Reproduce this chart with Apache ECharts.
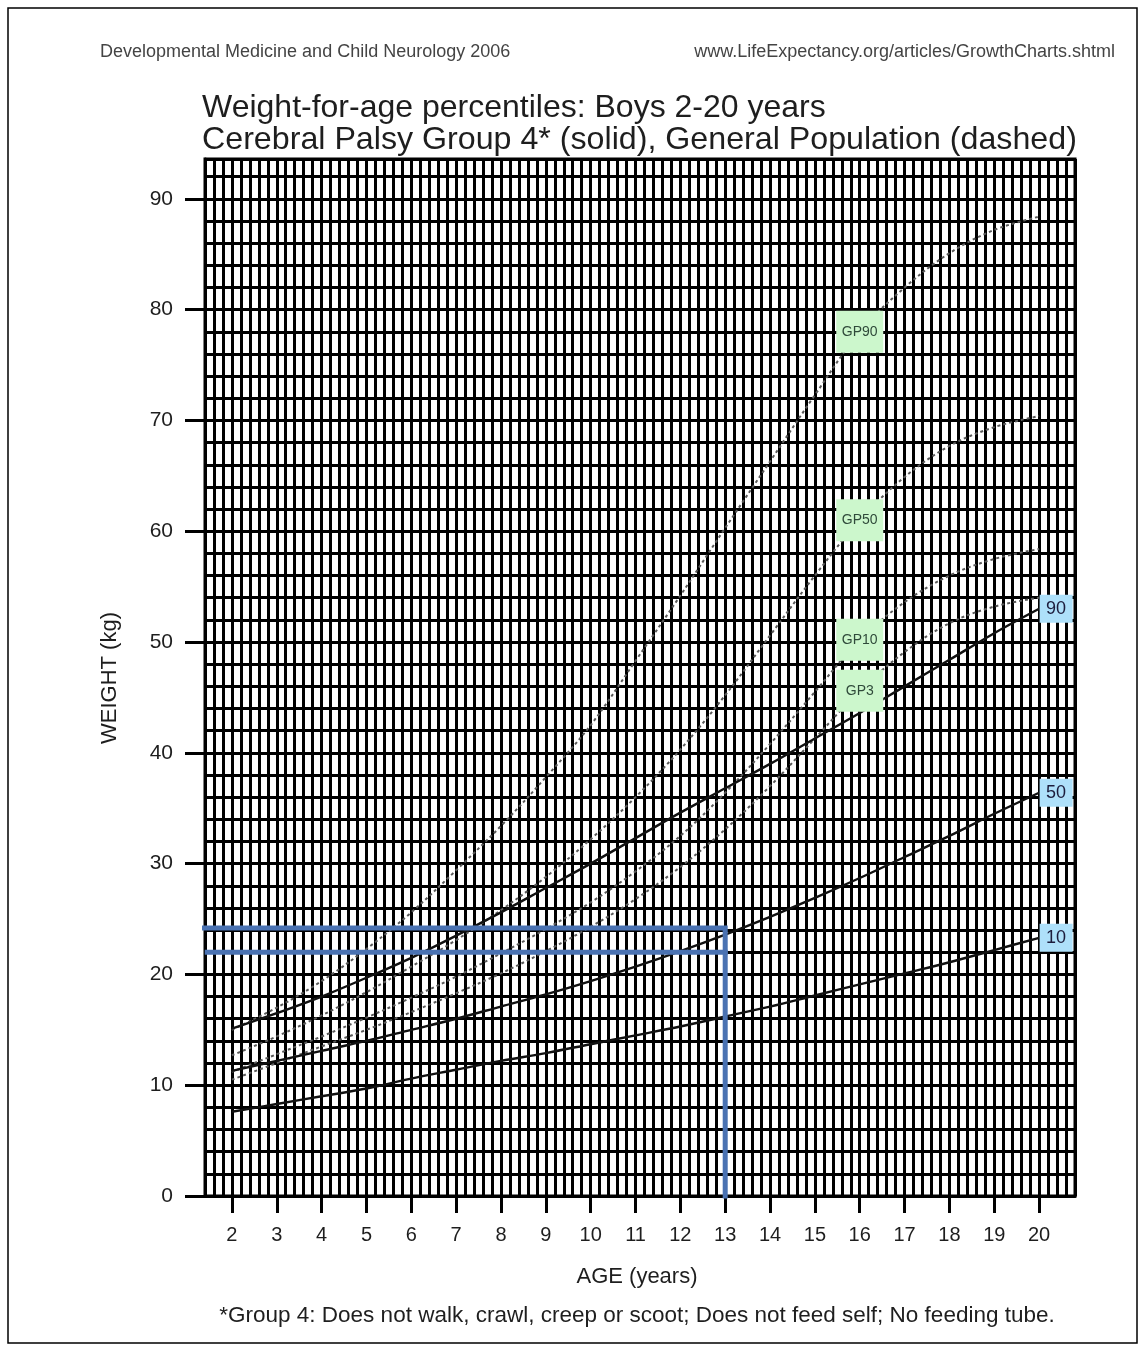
<!DOCTYPE html>
<html>
<head>
<meta charset="utf-8">
<script src="https://cdn.jsdelivr.net/npm/echarts@6/dist/echarts.min.js"></script>
<style>
  html, body { margin: 0; padding: 0; background: #fff; }
  #chart { width: 1145px; height: 1351px; }
</style>
</head>
<body>
<div id="chart"></div>
<script>
// Ages (years) at which every percentile curve is sampled
const ages = [2, 3, 4, 5, 6, 7, 8, 9, 10, 11, 12, 13, 14, 15, 16, 17, 18, 19, 20];

// General population percentiles (dashed), kg
const gp90 = [15.0, 17.0, 19.4, 22.3, 25.6, 29.4, 33.4, 37.8, 42.5, 48.3, 54.2, 60.3, 66.3, 72.3, 78.0, 82.0, 85.1, 87.2, 88.4];
const gp50 = [12.7, 14.4, 16.3, 18.4, 20.7, 23.1, 25.8, 28.8, 32.2, 36.0, 40.3, 45.2, 50.6, 56.0, 61.0, 64.9, 67.7, 69.4, 70.4];
const gp10 = [11.2, 12.8, 14.4, 16.1, 17.9, 19.8, 21.9, 24.1, 26.5, 29.3, 32.5, 36.4, 40.8, 45.5, 50.2, 53.6, 56.0, 57.5, 58.4];
const gp3  = [10.5, 12.0, 13.5, 15.0, 16.6, 18.3, 20.1, 22.1, 24.3, 26.8, 29.7, 33.1, 37.0, 41.3, 45.6, 49.1, 51.7, 53.2, 54.0];

// Cerebral palsy group 4 percentiles (solid), kg
const cp90 = [15.1, 16.5, 18.0, 19.7, 21.5, 23.5, 25.6, 27.8, 30.0, 32.3, 34.6, 36.8, 39.0, 41.3, 43.6, 46.0, 48.4, 50.8, 53.0];
const cp50 = [11.3, 12.2, 13.1, 14.0, 15.0, 16.0, 17.1, 18.2, 19.4, 20.7, 22.1, 23.6, 25.2, 26.9, 28.7, 30.6, 32.5, 34.5, 36.4];
const cp10 = [7.6, 8.3, 9.0, 9.7, 10.6, 11.4, 12.2, 12.9, 13.7, 14.5, 15.3, 16.2, 17.1, 18.1, 19.1, 20.1, 21.1, 22.2, 23.3];

// Axis tick labels
const xTicks = [2, 3, 4, 5, 6, 7, 8, 9, 10, 11, 12, 13, 14, 15, 16, 17, 18, 19, 20];
const yTicks = [0, 10, 20, 30, 40, 50, 60, 70, 80, 90];

// Reading guides drawn in blue: weight at age 13
const guideUpper = [[1.3, 24.2], [13, 24.2], [13, 0]];
const guideLower = [[1.45, 22.0], [13, 22.0]];

// Curve labels
const gpLabelAge = 16;
const gpNames = ['GP90', 'GP50', 'GP10', 'GP3'];
const cpNames = ['90', '50', '10'];

const FONT = '"Liberation Sans", Arial, Helvetica, sans-serif';
const INK = '#1e1e1e';

const X_MIN = 1.4, X_MAX = 20.8, Y_MIN = 0, Y_MAX = 93.6;

function pts(arr) { return ages.map((a, i) => [a, arr[i]]); }

const gpSets = [gp90, gp50, gp10, gp3];
const cpSets = [cp90, cp50, cp10];

const series = [];
gpSets.forEach((arr, k) => {
  series.push({
    name: gpNames[k], type: 'line', xAxisIndex: 1, yAxisIndex: 1,
    data: pts(arr), smooth: 0.35, showSymbol: false, symbol: 'none', silent: true,
    lineStyle: { color: '#5a5a5a', width: 2, type: [3, 3] }, z: 3
  });
});
cpSets.forEach((arr, k) => {
  series.push({
    name: 'CP' + cpNames[k], type: 'line', xAxisIndex: 1, yAxisIndex: 1,
    data: pts(arr), smooth: 0.35, showSymbol: false, symbol: 'none', silent: true,
    lineStyle: { color: '#111', width: 2.4 }, z: 4
  });
});
[guideUpper, guideLower].forEach((g) => {
  series.push({
    type: 'line', xAxisIndex: 1, yAxisIndex: 1, data: g, clip: false,
    showSymbol: false, symbol: 'none', silent: true,
    lineStyle: { color: '#4a72b2', width: 5, cap: 'square', join: 'miter' }, z: 5
  });
});

// Label boxes
const gpIdx = ages.indexOf(gpLabelAge);
const labelData = [];
gpSets.forEach((arr, k) => {
  labelData.push({
    value: [gpLabelAge, arr[gpIdx]], symbol: 'rect', symbolSize: [47, 42],
    itemStyle: { color: '#ccf7cc', opacity: 1 },
    label: { show: true, position: 'inside', formatter: gpNames[k], color: '#2f4a3a', fontSize: 14, fontFamily: FONT }
  });
});
cpSets.forEach((arr, k) => {
  labelData.push({
    value: [ages[ages.length - 1], arr[arr.length - 1]], symbol: 'rect', symbolSize: [33, 28],
    symbolOffset: [17, 0],
    itemStyle: { color: '#aee0fa', opacity: 1 },
    label: { show: true, position: 'inside', formatter: cpNames[k], color: '#1c1c3c', fontSize: 18, fontFamily: FONT }
  });
});
series.push({
  type: 'scatter', xAxisIndex: 1, yAxisIndex: 1, data: labelData, silent: true, z: 6, clip: false,
  itemStyle: { opacity: 1 }
});

const chart = echarts.init(document.getElementById('chart'), null, { renderer: 'canvas' });
chart.setOption({
  animation: false,
  backgroundColor: '#ffffff',
  grid: {
    left: 205, top: 159, width: 870, height: 1037,
    show: true, borderColor: '#000', borderWidth: 3, backgroundColor: '#fff'
  },
  xAxis: [
    {
      type: 'value', min: X_MIN, max: X_MAX, interval: 0.2, position: 'top',
      axisLine: { show: false }, axisTick: { show: false }, axisLabel: { show: false },
      splitLine: { show: true, lineStyle: { color: '#000', width: 3 } }
    },
    {
      type: 'value', min: X_MIN, max: X_MAX, position: 'bottom',
      axisLine: { show: true, onZero: false, lineStyle: { color: '#000', width: 3 } },
      axisTick: { show: true, customValues: xTicks, length: 17, lineStyle: { color: '#000', width: 3 } },
      axisLabel: { show: true, customValues: xTicks, margin: 29, fontSize: 20, color: INK, fontFamily: FONT },
      splitLine: { show: false }
    }
  ],
  yAxis: [
    {
      type: 'value', min: Y_MIN, max: Y_MAX, interval: 2, position: 'right',
      axisLine: { show: false }, axisTick: { show: false }, axisLabel: { show: false },
      splitLine: { show: true, lineStyle: { color: '#000', width: 3 } }
    },
    {
      type: 'value', min: Y_MIN, max: Y_MAX, position: 'left',
      axisLine: { show: true, onZero: false, lineStyle: { color: '#000', width: 3 } },
      axisTick: { show: true, customValues: yTicks, length: 20, lineStyle: { color: '#000', width: 3 } },
      axisLabel: { show: true, customValues: yTicks, margin: 32, fontSize: 21, color: INK, fontFamily: FONT },
      splitLine: { show: false }
    }
  ],
  series: series,
  graphic: [
    { type: 'rect', shape: { x: 8, y: 8, width: 1129, height: 1335 }, style: { fill: 'none', stroke: '#000', lineWidth: 1.5 }, silent: true },
    { type: 'text', x: 100, y: 52, style: { text: 'Developmental Medicine and Child Neurology 2006', font: '18px ' + FONT, fill: '#444', textVerticalAlign: 'middle' } },
    { type: 'text', x: 1115, y: 52, style: { text: 'www.LifeExpectancy.org/articles/GrowthCharts.shtml', font: '18px ' + FONT, fill: '#444', textAlign: 'right', textVerticalAlign: 'middle' } },
    { type: 'text', x: 202, y: 108, style: { text: 'Weight-for-age percentiles: Boys 2-20 years', font: '32px ' + FONT, fill: INK, textVerticalAlign: 'middle' } },
    { type: 'text', x: 202, y: 140, style: { text: 'Cerebral Palsy Group 4* (solid), General Population (dashed)', font: '32.2px ' + FONT, fill: INK, textVerticalAlign: 'middle' } },
    { type: 'text', x: 637, y: 1277, style: { text: 'AGE (years)', font: '22px ' + FONT, fill: INK, textAlign: 'center', textVerticalAlign: 'middle' } },
    { type: 'text', x: 110, y: 678, rotation: Math.PI / 2, style: { text: 'WEIGHT (kg)', font: '22px ' + FONT, fill: INK, textAlign: 'center', textVerticalAlign: 'middle' } },
    { type: 'text', x: 637, y: 1316, style: { text: '*Group 4: Does not walk, crawl, creep or scoot; Does not feed self; No feeding tube.', font: '22.5px ' + FONT, fill: INK, textAlign: 'center', textVerticalAlign: 'middle' } }
  ]
});
</script>
</body>
</html>
